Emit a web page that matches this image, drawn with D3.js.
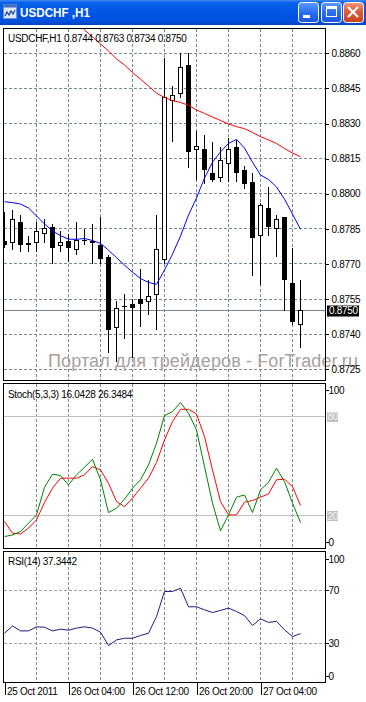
<!DOCTYPE html>
<html>
<head>
<meta charset="utf-8">
<script src="https://cdn.jsdelivr.net/npm/d3@7"></script>
<style>
body { margin: 0; background: #fff; }
svg { display: block; font-family: "Liberation Sans", Arial, sans-serif; }
</style>
</head>
<body>
<div id="chart"></div>
<script>
// USDCHF H1, bars from 25 Oct 20:00 to 27 Oct 09:00
var open  = [0.8780,0.8779,0.8788,0.8779,0.8779,0.8783,0.8786,0.8778,0.8780,0.8776,0.8780,0.8780,0.8778,0.8773,0.8743,0.8752,0.8753,0.8755,0.8754,0.8757,0.8772,0.8840,0.8843,0.8855,0.8819,0.8819,0.8809,0.8807,0.8813,0.8820,0.8810,0.8805,0.8782,0.8794,0.8785,0.8790,0.8762,0.8744];
var high  = [0.8792,0.8793,0.8791,0.8782,0.8788,0.8789,0.8787,0.8784,0.8783,0.8788,0.8785,0.8787,0.8790,0.8774,0.8754,0.8757,0.8755,0.8768,0.8763,0.8791,0.8858,0.8846,0.8860,0.8860,0.8827,0.8825,0.8822,0.8820,0.8824,0.8823,0.8812,0.8809,0.8796,0.8803,0.8791,0.8790,0.8777,0.8763];
var low   = [0.8777,0.8776,0.8775,0.8775,0.8775,0.8779,0.8770,0.8775,0.8771,0.8774,0.8778,0.8770,0.8770,0.8732,0.8728,0.8738,0.8730,0.8743,0.8748,0.8742,0.8770,0.8822,0.8841,0.8811,0.8806,0.8804,0.8805,0.8805,0.8805,0.8805,0.8802,0.8765,0.8761,0.8782,0.8773,0.8750,0.8744,0.8734];
var close = [0.8778,0.8789,0.8778,0.8778,0.8784,0.8785,0.8777,0.8779,0.8777,0.8780,0.8780,0.8779,0.8772,0.8742,0.8751,0.8752,0.8751,0.8753,0.8756,0.8776,0.8841,0.8842,0.8854,0.8818,0.8820,0.8810,0.8806,0.8814,0.8819,0.8809,0.8804,0.8781,0.8795,0.8786,0.8789,0.8763,0.8745,0.8750];

// moving averages
var maFast = [0.87966,0.87962,0.87956,0.87939,0.87905,0.87871,0.87841,0.87821,0.87806,0.87805,0.87809,0.87800,0.87788,0.87759,0.87727,0.87695,0.87665,0.87638,0.87621,0.87613,0.87674,0.87742,0.87819,0.87909,0.87982,0.88067,0.88135,0.88179,0.88215,0.88232,0.88195,0.88135,0.88080,0.88061,0.88029,0.87977,0.87913,0.87848];
var maSlow = [null,null,null,null,null,null,null,null,null,0.88734,0.88700,0.88670,0.88640,0.88610,0.88576,0.88550,0.88518,0.88490,0.88460,0.88430,0.88411,0.88398,0.88390,0.88378,0.88358,0.88343,0.88328,0.88313,0.88298,0.88287,0.88278,0.88262,0.88244,0.88230,0.88215,0.88193,0.88174,0.88158];

var stochMain   = [7.5,8.5,10.6,15.6,20.6,37.3,45.2,44.4,38.7,44.8,49.4,54.2,41.8,22.0,24.6,30.1,36.7,41.8,50.8,63.9,80.6,83.0,88.5,82.0,72.0,49.8,27.7,11.0,20.6,31.3,32.7,22.0,35.7,40.3,48.8,40.7,27.7,16.0];
var stochSignal = [16.6,9.5,9.1,12.6,17.6,28.1,36.7,42.8,42.8,42.8,44.8,49.8,47.8,39.7,28.7,25.6,30.7,36.7,42.8,52.2,65.9,77.0,84.4,84.4,81.6,67.9,47.8,28.7,20.6,20.6,28.3,29.3,31.3,33.3,41.8,42.2,37.7,26.3];
var rsi = [37.6,43.2,39.4,39.4,42.5,42.2,39.4,40.7,39.9,41.5,42.5,41.5,38.4,28.2,32.5,33.8,33.8,35.9,37.6,50.4,69.5,69.5,72.0,57.8,57.8,55.5,53.4,55.0,56.8,54.2,51.1,43.5,48.6,45.8,46.8,40.2,35.1,37.3];

var priceTicks = [0.8860,0.8845,0.8830,0.8815,0.8800,0.8785,0.8770,0.8755,0.8740,0.8725];
var gridBars = [4,8,12,16,20,24,28,32,36];
var timeBars = [0,8,16,24,32];
var timeLabels = ['25 Oct 2011','26 Oct 04:00','26 Oct 12:00','26 Oct 20:00','27 Oct 04:00'];

var W = 366, H = 702;
var left = 3.5, right = 325.5;
var gridColor = '#778899';
var fmt4 = d3.format('.4f');

var svg = d3.select('#chart').append('svg')
    .attr('width', W)
    .attr('height', H);
var defs = svg.append('defs');

// ---- window caption ----
function gradient(id, stops){
    var g = defs.append('linearGradient').attr('id', id)
        .attr('x1', 0).attr('y1', 0).attr('x2', 0).attr('y2', 1);
    stops.forEach(function(s){ g.append('stop').attr('offset', s[0]).attr('stop-color', s[1]); });
}
gradient('caption', [[0,'#3f8cf3'],[0.1,'#0a62ec'],[0.5,'#0055e5'],[0.85,'#0151dd'],[1,'#0043bd']]);
gradient('btn', [[0,'#5a9bff'],[0.5,'#2a6ef5'],[1,'#1c55e0']]);
gradient('btnClose', [[0,'#f09a80'],[0.4,'#e2603c'],[1,'#c8401c']]);

svg.append('rect')
    .attr('x', 0).attr('y', 0)
    .attr('width', W).attr('height', 25)
    .attr('fill', 'url(#caption)');

// little chart icon
var icon = svg.append('g').attr('transform', 'translate(3,4)');
icon.append('rect').attr('x', 0.5).attr('y', 0.5).attr('width', 13).attr('height', 14)
    .attr('fill', '#dfe9f7').attr('stroke', '#6b8fc8');
icon.append('rect').attr('x', 0.5).attr('y', 0.5).attr('width', 13).attr('height', 3)
    .attr('fill', '#3d6fc4');
icon.append('polyline').attr('points', '2,12 4,8 6,11 8,7 10,10 12,6')
    .attr('fill', 'none').attr('stroke', '#1a3f9a').attr('stroke-width', 1.2);

svg.append('text')
    .attr('x', 20).attr('y', 17)
    .attr('font-size', '13px')
    .attr('font-weight', 'bold')
    .attr('textLength', 70)
    .attr('lengthAdjust', 'spacingAndGlyphs')
    .attr('fill', '#fff')
    .text('USDCHF ,H1');

// caption buttons
var buttons = [{x: 298, fill: 'url(#btn)'}, {x: 321, fill: 'url(#btn)'}, {x: 343, fill: 'url(#btnClose)'}];
buttons.forEach(function(b){
    svg.append('rect')
        .attr('x', b.x + 0.5).attr('y', 2.5)
        .attr('width', 20).attr('height', 20)
        .attr('rx', 3)
        .attr('fill', b.fill)
        .attr('stroke', '#fff');
});
svg.append('rect').attr('x', 303).attr('y', 15).attr('width', 7).attr('height', 3).attr('fill', '#fff');
svg.append('rect').attr('x', 326.5).attr('y', 6.5).attr('width', 10).attr('height', 10)
    .attr('fill', 'none').attr('stroke', '#fff');
svg.append('rect').attr('x', 326).attr('y', 6).attr('width', 11).attr('height', 3).attr('fill', '#fff');
svg.append('path').attr('d', 'M348,7 L358,17 M358,7 L348,17')
    .attr('stroke', '#fff').attr('stroke-width', 2.2);

// ---- panels ----
var x = d3.scaleLinear().domain([0, 37]).range([4.5, 300.5]);

var mainTop = 28.5, mainBottom = 380.5;
var stTop = 383.5, stBottom = 548.5;
var rsiTop = 551.5, rsiBottom = 682.5;

var yMain = d3.scaleLinear().domain([0.8725, 0.8860]).range([369.3, 53.3]);
var ySt = d3.scaleLinear().domain([0, 100]).range([549, 383.5]);
var yRsi = d3.scaleLinear().domain([0, 100]).range([682.5, 551.5]);

function clip(id, top, bottom){
    defs.append('clipPath').attr('id', id)
        .append('rect').attr('x', left).attr('y', top)
        .attr('width', right - left).attr('height', bottom - top);
}
clip('clipMain', mainTop, mainBottom);
clip('clipSt', stTop, stBottom);
clip('clipRsi', rsiTop, rsiBottom);

function vGrid(g, top, bottom){
    g.selectAll('line.vg').data(gridBars).enter().append('line')
        .attr('x1', function(d){ return x(d); })
        .attr('x2', function(d){ return x(d); })
        .attr('y1', top).attr('y2', bottom)
        .attr('stroke', gridColor)
        .attr('stroke-dasharray', '3,2')
        .attr('shape-rendering', 'crispEdges');
}

function frame(top, bottom){
    svg.append('rect')
        .attr('x', left).attr('y', top)
        .attr('width', right - left).attr('height', bottom - top)
        .attr('fill', 'none')
        .attr('stroke', '#000')
        .attr('shape-rendering', 'crispEdges');
}

function caption(txt, yBase){
    svg.append('text')
        .attr('x', 8).attr('y', yBase)
        .attr('font-size', '10px')
        .attr('letter-spacing', '-0.3px')
        .attr('fill', '#000')
        .text(txt);
}

function sideLabel(txt, yc){
    svg.append('line')
        .attr('x1', right).attr('x2', right + 3)
        .attr('y1', yc).attr('y2', yc)
        .attr('stroke', '#000').attr('shape-rendering', 'crispEdges');
    svg.append('text')
        .attr('x', 328.5).attr('y', yc + 3.6)
        .attr('font-size', '10px')
        .attr('letter-spacing', '-0.3px')
        .text(txt);
}

// ---- main chart ----
var gGrid = svg.append('g').attr('clip-path', 'url(#clipMain)');

gGrid.selectAll('line.hg').data(priceTicks).enter().append('line')
    .attr('x1', left).attr('x2', right)
    .attr('y1', function(d){ return yMain(d); })
    .attr('y2', function(d){ return yMain(d); })
    .attr('stroke', gridColor)
    .attr('stroke-dasharray', '3,2')
    .attr('shape-rendering', 'crispEdges');
vGrid(gGrid, mainTop, mainBottom);

// watermark runs over the price scale, so it is not clipped
svg.append('text')
    .attr('x', 48).attr('y', 367)
    .attr('font-size', '18px')
    .attr('textLength', 310)
    .attr('lengthAdjust', 'spacing')
    .attr('fill', '#a89f9f')
    .text('Портал для трейдеров - ForTrader.ru');

var gMain = svg.append('g').attr('clip-path', 'url(#clipMain)');

// bid line
var last = close[close.length - 1];
gMain.append('line')
    .attr('x1', left).attr('x2', right)
    .attr('y1', yMain(last)).attr('y2', yMain(last))
    .attr('stroke', gridColor)
    .attr('shape-rendering', 'crispEdges');

// candles
var bars = d3.range(close.length);
var candle = gMain.selectAll('g.bar').data(bars).enter().append('g')
    .attr('shape-rendering', 'crispEdges');
candle.append('line')
    .attr('x1', function(i){ return x(i); })
    .attr('x2', function(i){ return x(i); })
    .attr('y1', function(i){ return yMain(high[i]); })
    .attr('y2', function(i){ return yMain(low[i]); })
    .attr('stroke', '#000');
candle.each(function(i){
    var g = d3.select(this);
    var top = yMain(Math.max(open[i], close[i]));
    var bot = yMain(Math.min(open[i], close[i]));
    if (open[i] === close[i]) {
        g.append('line')
            .attr('x1', x(i) - 2.5).attr('x2', x(i) + 2.5)
            .attr('y1', top).attr('y2', top)
            .attr('stroke', '#000');
    } else if (close[i] > open[i]) {
        g.append('rect')
            .attr('x', x(i) - 2).attr('y', top)
            .attr('width', 4).attr('height', bot - top)
            .attr('fill', '#fff').attr('stroke', '#000');
    } else {
        g.append('rect')
            .attr('x', x(i) - 2.5).attr('y', top)
            .attr('width', 5).attr('height', bot - top)
            .attr('fill', '#000');
    }
});

var lineMain = d3.line()
    .defined(function(d){ return d !== null; })
    .x(function(d, i){ return x(i); })
    .y(function(d){ return yMain(d); });
gMain.append('path').datum(maSlow)
    .attr('d', lineMain).attr('fill', 'none').attr('stroke', '#ff0000');
gMain.append('path').datum(maFast)
    .attr('d', lineMain).attr('fill', 'none').attr('stroke', '#0000ff');

frame(mainTop, mainBottom);
caption('USDCHF,H1  ' + [open, high, low, close].map(function(a){ return fmt4(a[a.length - 1]); }).join(' '), 42);

var yAxis = d3.axisRight(yMain)
    .tickValues(priceTicks)
    .tickSize(3)
    .tickPadding(3)
    .tickFormat(fmt4);
var gAxis = svg.append('g')
    .attr('transform', 'translate(' + right + ',0)')
    .call(yAxis);
gAxis.select('.domain').remove();
gAxis.selectAll('line').attr('shape-rendering', 'crispEdges');
gAxis.selectAll('text')
    .attr('font-family', '"Liberation Sans", Arial, sans-serif')
    .attr('font-size', '10px')
    .attr('letter-spacing', '-0.3px')
    .attr('fill', '#000');

// bid price box
svg.append('rect')
    .attr('x', 327).attr('y', Math.round(yMain(last)) - 5.5)
    .attr('width', 32).attr('height', 11)
    .attr('fill', '#000');
svg.append('text')
    .attr('x', 329).attr('y', yMain(last) + 3.6)
    .attr('font-size', '10px')
    .attr('letter-spacing', '-0.3px')
    .attr('fill', '#fff')
    .text(fmt4(last));

// ---- stochastic ----
var gSt = svg.append('g').attr('clip-path', 'url(#clipSt)');
vGrid(gSt, stTop, stBottom);
[80, 20].forEach(function(v){
    gSt.append('line')
        .attr('x1', left).attr('x2', right)
        .attr('y1', ySt(v)).attr('y2', ySt(v))
        .attr('stroke', '#c0c0c0')
        .attr('shape-rendering', 'crispEdges');
});
var lineSt = d3.line()
    .x(function(d, i){ return x(i); })
    .y(function(d){ return ySt(d); });
gSt.append('path').datum(stochSignal)
    .attr('d', lineSt).attr('fill', 'none').attr('stroke', '#ff0000');
gSt.append('path').datum(stochMain)
    .attr('d', lineSt).attr('fill', 'none').attr('stroke', '#008000');
frame(stTop, stBottom);
caption('Stoch(5,3,3) ' + fmt4(16.0428) + ' ' + fmt4(26.3484), 397.5);

sideLabel('100', ySt(100) + 7.2);
sideLabel('0', ySt(0) - 6.3);
[80, 20].forEach(function(v){
    svg.append('rect')
        .attr('x', 327).attr('y', Math.round(ySt(v)) - 5)
        .attr('width', 11).attr('height', 10)
        .attr('fill', '#c0c0c0');
    svg.append('text')
        .attr('x', 327.5).attr('y', ySt(v) + 3.6)
        .attr('font-size', '10px')
        .attr('letter-spacing', '-0.3px')
        .attr('fill', '#f4f4f4')
        .text(v);
});

// ---- RSI ----
var gRsi = svg.append('g').attr('clip-path', 'url(#clipRsi)');
vGrid(gRsi, rsiTop, rsiBottom);
[70, 30].forEach(function(v){
    gRsi.append('line')
        .attr('x1', left).attr('x2', right)
        .attr('y1', yRsi(v)).attr('y2', yRsi(v))
        .attr('stroke', '#a0a0a0')
        .attr('stroke-dasharray', '3,2')
        .attr('shape-rendering', 'crispEdges');
});
gRsi.append('path').datum(rsi)
    .attr('d', d3.line().x(function(d, i){ return x(i); }).y(function(d){ return yRsi(d); }))
    .attr('fill', 'none')
    .attr('stroke', '#1c1c80');
frame(rsiTop, rsiBottom);
caption('RSI(14) ' + fmt4(37.3442), 565);

sideLabel('100', yRsi(100) + 7.5);
sideLabel('70', yRsi(70));
sideLabel('30', yRsi(30));
sideLabel('0', yRsi(0) - 6);

// ---- time axis ----
var xAxis = d3.axisBottom(x)
    .tickValues(timeBars)
    .tickSize(12)
    .tickFormat(function(d, i){ return timeLabels[i]; });
var gX = svg.append('g')
    .attr('transform', 'translate(0,' + rsiBottom + ')')
    .call(xAxis);
gX.select('.domain').remove();
gX.selectAll('line').attr('shape-rendering', 'crispEdges');
gX.selectAll('text')
    .attr('text-anchor', 'start')
    .attr('x', 2)
    .attr('y', 5)
    .attr('dy', '0.71em')
    .attr('font-family', '"Liberation Sans", Arial, sans-serif')
    .attr('font-size', '10px')
    .attr('letter-spacing', '-0.3px')
    .attr('fill', '#000');
</script>
</body>
</html>
